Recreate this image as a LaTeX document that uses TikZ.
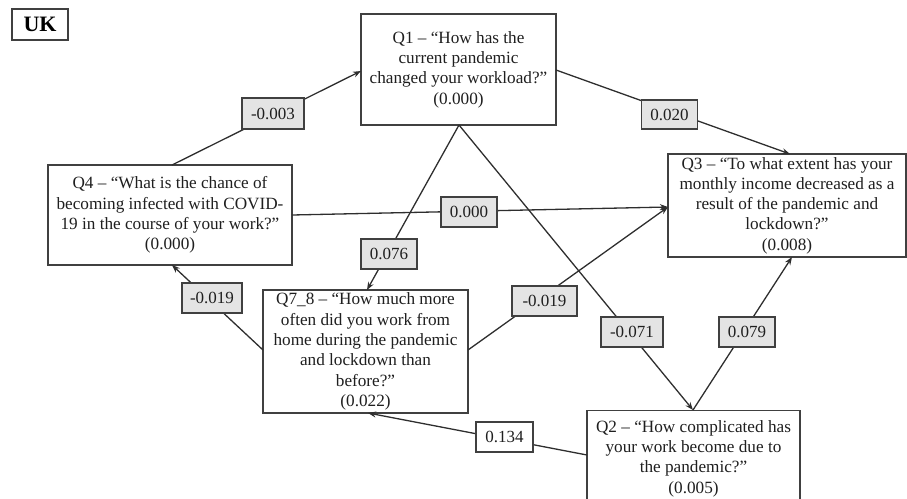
\documentclass[tikz,border=0pt]{standalone}
\usepackage{fontspec}
\setmainfont{Liberation Serif}
\usetikzlibrary{arrows.meta}
\definecolor{lineC}{HTML}{2E2E2E}
\definecolor{boxC}{HTML}{404040}
\definecolor{lblfill}{HTML}{E4E4E4}
\begin{document}
\begin{tikzpicture}[x=1pt,y=-1pt,
  qbox/.style={draw=boxC,line width=1.3pt,fill=white,align=center,inner sep=0pt,
    font=\fontsize{17.2}{20.3}\selectfont,text=black!88},
  lbl/.style={draw=boxC,line width=1.3pt,fill=lblfill,inner sep=0pt,minimum width=58pt,minimum height=30pt,
    font=\fontsize{17}{19}\selectfont,text=black!88},
  lblw/.style={lbl,fill=white},
  conn/.style={draw=lineC,line width=1.3pt,-{Stealth[length=8pt,width=6pt]}}]
\useasboundingbox (0,0) rectangle (907,498);
\clip (0,0) rectangle (907,498);

% UK
\node[draw=boxC,line width=1.3pt,minimum width=56pt,minimum height=31pt,inner sep=0pt,
  font=\fontsize{22}{24}\bfseries] (uk) at (40,24.5) {UK};

% boxes
\node[qbox,minimum width=195pt,minimum height=111pt] (q1) at (458.5,69.5)
  {Q1 – “How has the\\current pandemic\\changed your workload?”\\(0.000)};
\node[qbox,minimum width=244pt,minimum height=100pt] (q4) at (170,215)
  {Q4 – “What is the chance of\\becoming infected with COVID-\\19 in the course of your work?”\\(0.000)};
\node[qbox,minimum width=238pt,minimum height=103pt] (q3) at (787,205.5)
  {Q3 – “To what extent has your\\monthly income decreased as a\\result of the pandemic and\\lockdown?”\\(0.008)};
\node[qbox,minimum width=205pt,minimum height=123pt] (q78) at (365.5,351.5)
  {Q7\_8 – “How much more\\often did you work from\\home during the pandemic\\and lockdown than\\before?”\\(0.022)};
\node[qbox,minimum width=213pt,minimum height=96pt,anchor=north] (q2) at (693.5,410)
  {Q2 – “How complicated has\\your work become due to\\the pandemic?”\\(0.005)};

% connector end points
\coordinate (q4top) at (172,165);
\coordinate (q1left) at (361,71);
\coordinate (q1right) at (556,70);
\coordinate (q3top) at (790,154);
\coordinate (q4right) at (292,215);
\coordinate (q3left) at (668,207);
\coordinate (q1bot) at (459,125);
\coordinate (q78top) at (367,290);
\coordinate (q2top) at (693,410);
\coordinate (q3bot) at (792,257);
\coordinate (q78right) at (468,350);
\coordinate (q78left) at (263,350);
\coordinate (q4bot) at (172,265);
\coordinate (q2left) at (587,455);
\coordinate (q78bot) at (368,413);

% connectors
\draw[conn] (q4top) -- (q1left);
\draw[conn] (q1right) -- (q3top);
\draw[conn] (q4right) -- (q3left);
\draw[conn] (q1bot) -- (q78top);
\draw[conn] (q1bot) -- (q2top);
\draw[conn] (q2top) -- (q3bot);
\draw[conn] (q78right) -- (q3left);
\draw[conn] (q78left) -- (q4bot);
\draw[conn] (q2left) -- (q78bot);

% labels
\node[lbl,minimum width=62pt,minimum height=31pt] (l1) at (273,113.5) {-0.003};
\node[lbl,minimum width=56pt,minimum height=29pt] (l2) at (669.5,114.5) {0.020};
\node[lbl,minimum width=56pt,minimum height=30pt] (l3) at (469,212) {0.000};
\node[lbl,minimum width=56pt,minimum height=30pt] (l4) at (389,254) {0.076};
\node[lbl,minimum width=60pt,minimum height=30pt] (l5) at (212,298) {-0.019};
\node[lbl,minimum width=65pt,minimum height=30pt] (l6) at (544.5,301) {-0.019};
\node[lbl,minimum width=62pt,minimum height=30pt] (l7) at (632,332) {-0.071};
\node[lbl,minimum width=56pt,minimum height=30pt] (l8) at (747,332) {0.079};
\node[lblw,minimum width=57pt,minimum height=30pt] (l9) at (504.5,437) {0.134};
\end{tikzpicture}
\end{document}
